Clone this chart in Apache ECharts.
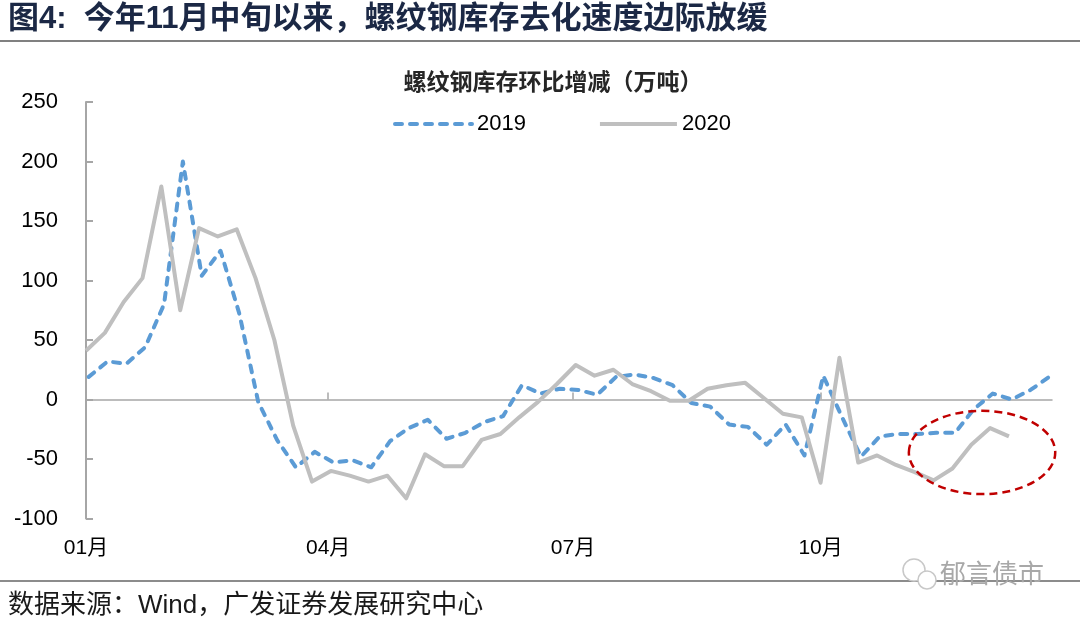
<!DOCTYPE html>
<html><head><meta charset="utf-8">
<script src="https://cdn.jsdelivr.net/npm/echarts@6/dist/echarts.min.js"></script>
<style>html,body{margin:0;padding:0;background:#fff}#c{width:1080px;height:624px}</style>
</head><body><div id="c"></div>
<script>
// Weekly change of rebar inventory (10k tonnes)
const values2019 = [19, 32, 30, 44, 80, 200, 104, 125, 72, -2, -34, -57, -44, -53, -51, -57, -35, -24, -17, -33,
  -28, -19, -14, 12, 5, 9, 8, 4, 19, 21, 18, 12, -3, -6, -21, -23, -38, -21, -47, 20,
  -15, -48, -31, -29, -29, -28, -28, -8, 5, 0, 8, 19];
const values2020 = [41, 56, 82, 102, 179, 75, 144, 137, 143, 102, 50, -22, -69, -60, -64, -69, -64, -83, -46, -56,
  -56, -34, -29, -15, -2, 13, 29, 20, 25, 13, 7, -1, -1, 9, 12, 14, 1, -12, -15, -70,
  35, -53, -47, -55, -61, -68, -58, -38, -24, -31];
// weekly release dates, as day offsets from Jan 2 (2020: Thursdays from 01-02; 2019: Thursdays from 01-03)
const firstDay2019 = 1, firstDay2020 = 0, daysPerWeek = 7;
const days2019 = values2019.map((_, i) => firstDay2019 + daysPerWeek * i);
const days2020 = values2020.map((_, i) => firstDay2020 + daysPerWeek * i);
const xTickDays = [0, 90, 181, 273];
const xTickLabels = ['01月', '04月', '07月', '10月'];
const xMaxDay = 359;
const seriesNames = ['2019', '2020'];

const FONT = "'Liberation Sans', 'Noto Sans CJK SC', sans-serif";
const chart = echarts.init(document.getElementById('c'));
const axisGray = '#a6a6a6';
const blue = '#5b9bd5', gray = '#bfbfbf';
const blueDash = [7, 8];

chart.setOption({
  animation: false,
  backgroundColor: '#fff',
  grid: { left: 86, right: 28, top: 102, bottom: 105.5, containLabel: false, outerBoundsMode: 'none' },
  legend: {
    left: 393, top: 113, padding: 0, itemWidth: 77, itemHeight: 14, itemGap: 72,
    itemStyle: { opacity: 0 },
    textStyle: { fontSize: 22, color: '#000', fontFamily: FONT },
    data: [
      { name: seriesNames[0], lineStyle: { color: blue, width: 4, type: blueDash, cap: 'round' } },
      { name: seriesNames[1], lineStyle: { color: gray, width: 4 } }
    ]
  },
  xAxis: [{
    type: 'value', min: 0, max: xMaxDay,
    axisLine: { show: false, onZero: false },
    axisTick: { show: false },
    splitLine: { show: false },
    axisLabel: {
      customValues: xTickDays,
      formatter: v => xTickLabels[xTickDays.indexOf(v)],
      fontSize: 21, color: '#000', margin: 19, fontFamily: FONT
    }
  }, {
    type: 'value', min: 0, max: xMaxDay, position: 'bottom',
    axisLine: { show: true, onZero: true, lineStyle: { color: axisGray, width: 1.5 } },
    axisTick: { show: true, inside: true, length: 7, customValues: xTickDays, lineStyle: { color: axisGray, width: 1.5 } },
    axisLabel: { show: false },
    splitLine: { show: false }
  }],
  yAxis: {
    type: 'value', min: -100, max: 250, interval: 50,
    axisLine: { show: true, onZero: false, lineStyle: { color: axisGray, width: 2 } },
    axisTick: { show: true, inside: true, length: 7, lineStyle: { color: axisGray, width: 2 } },
    splitLine: { show: false },
    axisLabel: { fontSize: 22, color: '#000', margin: 28, fontFamily: FONT }
  },
  series: [{
    name: seriesNames[0], type: 'line', xAxisIndex: 0,
    data: days2019.map((d, i) => [d, values2019[i]]),
    symbol: 'none', showSymbol: false,
    itemStyle: { color: blue },
    lineStyle: { color: blue, width: 4, type: blueDash, cap: 'round', join: 'round' }
  }, {
    name: seriesNames[1], type: 'line', xAxisIndex: 0,
    data: days2020.map((d, i) => [d, values2020[i]]),
    symbol: 'none', showSymbol: false,
    itemStyle: { color: gray },
    lineStyle: { color: gray, width: 4, join: 'round' }
  }]
});

// annotation ellipse (in data coordinates)
const ellipseCenter = [333, -44.5];
const ellipseRadius = [27.2, 35];
const c0 = chart.convertToPixel({ xAxisIndex: 0, yAxisIndex: 0 }, ellipseCenter);
const c1 = chart.convertToPixel({ xAxisIndex: 0, yAxisIndex: 0 },
  [ellipseCenter[0] + ellipseRadius[0], ellipseCenter[1] + ellipseRadius[1]]);

chart.setOption({
  graphic: [
    { type: 'text', left: 8, top: 4, style: { text: '图4:  今年11月中旬以来，螺纹钢库存去化速度边际放缓', font: "bold 31px " + FONT, fill: '#1b2845' } },
    { type: 'rect', shape: { x: 0, y: 40, width: 1080, height: 2 }, style: { fill: '#808080' } },
    { type: 'text', x: 553, y: 84, style: { text: '螺纹钢库存环比增减（万吨）', font: "bold 23px " + FONT, fill: '#262626', align: 'center', verticalAlign: 'middle' } },
    { type: 'rect', shape: { x: 0, y: 580, width: 1080, height: 2 }, style: { fill: '#8c8c8c' } },
    { type: 'text', x: 8, y: 606, style: { text: '数据来源：Wind，广发证券发展研究中心', font: "26px " + FONT, fill: '#1a1a1a', verticalAlign: 'middle' } },
    { type: 'circle', shape: { cx: 914, cy: 570, r: 11 }, style: { fill: '#fff', stroke: '#c8c8c8', lineWidth: 1.5 } },
    { type: 'circle', shape: { cx: 927, cy: 580, r: 9 }, style: { fill: '#fff', stroke: '#c8c8c8', lineWidth: 1.5 } },
    { type: 'text', x: 940, y: 576, style: { text: '郁言债市', font: "26px " + FONT, fill: '#a8a8a8', verticalAlign: 'middle' } },
    { type: 'ellipse', shape: { cx: c0[0], cy: c0[1], rx: Math.abs(c1[0] - c0[0]), ry: Math.abs(c1[1] - c0[1]) },
      style: { fill: 'none', stroke: '#c00000', lineWidth: 2.5, lineDash: [8, 5] }, z: 10 }
  ]
});
</script></body></html>
